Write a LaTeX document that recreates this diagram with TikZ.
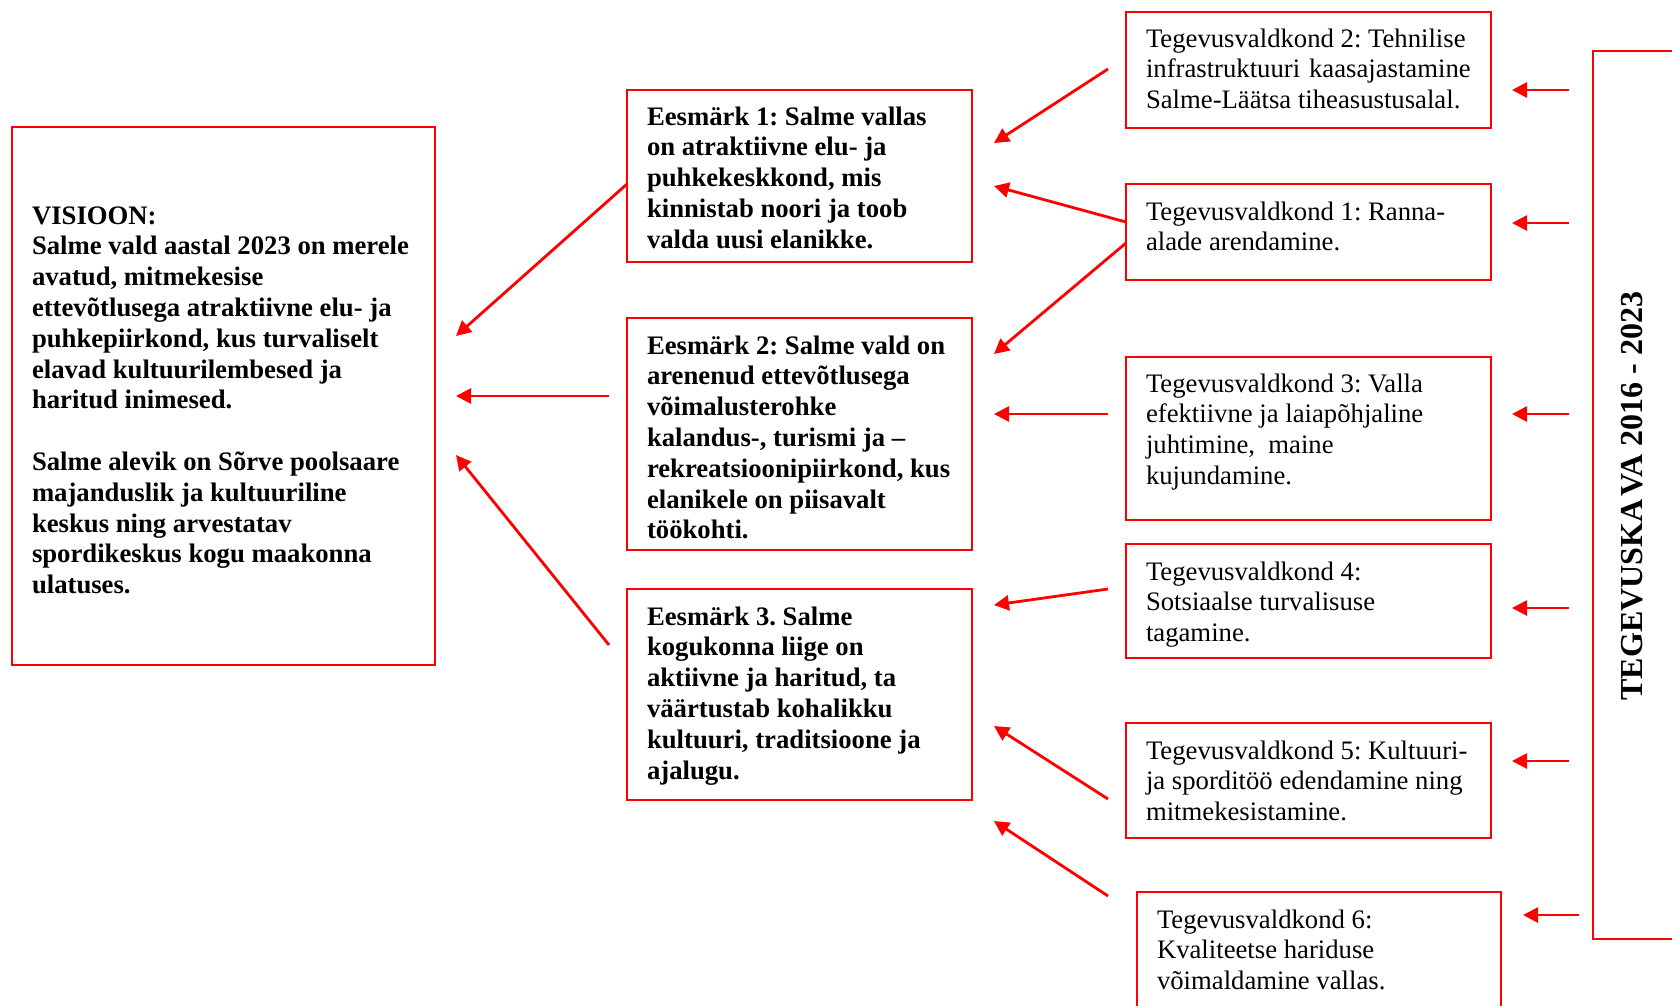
\documentclass[tikz,border=0pt]{standalone}
\usepackage{fontspec}
\setmainfont{Liberation Serif}
\usetikzlibrary{arrows.meta}
\definecolor{pured}{RGB}{255,0,0}
\tikzset{
  boxnode/.style={draw=pured, line width=2.2pt, inner sep=0pt, outer sep=0pt, anchor=north west, rectangle},
  txtnode/.style={inner sep=0pt, outer sep=0pt, anchor=base west, align=left},
  arr/.style={draw=pured, line width=2.8pt, -{Triangle[length=15pt,width=15pt]}},
}
\frenchspacing
\newcommand{\bodyfont}{\fontsize{26.7pt}{30.8pt}\selectfont}
\newcommand{\txtbox}[1]{\parbox[t]{520pt}{\raggedright\bodyfont\frenchspacing #1}}
\begin{document}
\begin{tikzpicture}[x=1pt,y=-1pt]
\useasboundingbox (0,0) rectangle (1672,1005);
\clip (0,0) rectangle (1672,1005);
\fill[white] (0,0) rectangle (1672,1005);

% boxes
\node[boxnode, minimum width=423pt, minimum height=538pt] (vis) at (12,127) {};
\node[boxnode, minimum width=345pt, minimum height=172pt] (e1) at (627,90) {};
\node[boxnode, minimum width=345pt, minimum height=232pt] (e2) at (627,318) {};
\node[boxnode, minimum width=345pt, minimum height=211pt] (e3) at (627,589) {};
\node[boxnode, minimum width=365pt, minimum height=116pt] (tv2) at (1126,12) {};
\node[boxnode, minimum width=365pt, minimum height=96pt] (tv1) at (1126,184) {};
\node[boxnode, minimum width=365pt, minimum height=163pt] (tv3) at (1126,357) {};
\node[boxnode, minimum width=365pt, minimum height=114pt] (tv4) at (1126,544) {};
\node[boxnode, minimum width=365pt, minimum height=115pt] (tv5) at (1126,723) {};
\node[boxnode, minimum width=364pt, minimum height=140pt] (tv6) at (1137,892) {};
\node[boxnode, minimum width=120pt, minimum height=888pt] (tk) at (1593,51) {};

% texts
\node[txtnode] (vist) at ([xshift=20pt,yshift=-97pt]vis.north west) {\txtbox{\bfseries VISIOON:\\
Salme vald aastal 2023 on merele\\
avatud, mitmekesise\\
ettevõtlusega atraktiivne elu- ja\\
puhkepiirkond, kus turvaliselt\\
elavad kultuurilembesed ja\\
haritud inimesed.\\
\mbox{}\\
Salme alevik on Sõrve poolsaare\\
majanduslik ja kultuuriline\\
keskus ning arvestatav\\
spordikeskus kogu maakonna\\
ulatuses.}};

\node[txtnode] (e1t) at ([xshift=20pt,yshift=-35pt]e1.north west) {\txtbox{\bfseries Eesmärk 1: Salme vallas\\
on atraktiivne elu- ja\\
puhkekeskkond, mis\\
kinnistab noori ja toob\\
valda uusi elanikke.}};

\node[txtnode] (e2t) at ([xshift=20pt,yshift=-36pt]e2.north west) {\txtbox{\bfseries Eesmärk 2: Salme vald on\\
arenenud ettevõtlusega\\
võimalusterohke\\
kalandus-, turismi ja –\\
rekreatsioonipiirkond, kus\\
elanikele on piisavalt\\
töökohti.}};

\node[txtnode] (e3t) at ([xshift=20pt,yshift=-36pt]e3.north west) {\txtbox{\bfseries Eesmärk 3. Salme\\
kogukonna liige on\\
aktiivne ja haritud, ta\\
väärtustab kohalikku\\
kultuuri, traditsioone ja\\
ajalugu.}};

\node[txtnode] (tv2t) at ([xshift=20pt,yshift=-35pt]tv2.north west) {\txtbox{Tegevusvaldkond 2: Tehnilise\\
infrastruktuuri\hspace{0.33em}kaasajastamine\\
Salme-Läätsa tiheasustusalal.}};

\node[txtnode] (tv1t) at ([xshift=20pt,yshift=-36pt]tv1.north west) {\txtbox{Tegevusvaldkond 1: Ranna-\\
alade arendamine.}};

\node[txtnode] (tv3t) at ([xshift=20pt,yshift=-35pt]tv3.north west) {\txtbox{Tegevusvaldkond 3: Valla\\
efektiivne ja laiapõhjaline\\
juhtimine,\ \ maine\\
kujundamine.}};

\node[txtnode] (tv4t) at ([xshift=20pt,yshift=-36pt]tv4.north west) {\txtbox{Tegevusvaldkond 4:\\
Sotsiaalse turvalisuse\\
tagamine.}};

\node[txtnode] (tv5t) at ([xshift=20pt,yshift=-36pt]tv5.north west) {\txtbox{Tegevusvaldkond 5: Kultuuri-\\
ja sporditöö edendamine ning\\
mitmekesistamine.}};

\node[txtnode] (tv6t) at ([xshift=20pt,yshift=-36pt]tv6.north west) {\txtbox{Tegevusvaldkond 6:\\
Kvaliteetse hariduse\\
võimaldamine vallas.}};

\node[rotate=90, inner sep=0pt, font=\fontsize{32pt}{36pt}\selectfont\bfseries] (tkt) at (1632,496) {TEGEVUSKA\kern3pt VA 2016 - 2023};

% connector end points
\coordinate (p1s) at (627,184);  \coordinate (p1e) at (456,336);
\coordinate (p2s) at (609,396);  \coordinate (p2e) at (456,396);
\coordinate (p3s) at (609,645);  \coordinate (p3e) at (456,455);
\coordinate (q1s) at (1108,69);  \coordinate (q1e) at (994,143);
\coordinate (q2s) at (1126,222); \coordinate (q2e) at (994,186);
\coordinate (q3s) at (1126,243); \coordinate (q3e) at (994,354);
\coordinate (q4s) at (1108,414); \coordinate (q4e) at (994,414);
\coordinate (q5s) at (1108,589); \coordinate (q5e) at (994,605);
\coordinate (q6s) at (1108,799); \coordinate (q6e) at (994,726);
\coordinate (q7s) at (1108,896); \coordinate (q7e) at (994,821);
\coordinate (r1s) at (1569,90);  \coordinate (r1e) at (1512,90);
\coordinate (r2s) at (1569,223); \coordinate (r2e) at (1512,223);
\coordinate (r3s) at (1569,414); \coordinate (r3e) at (1512,414);
\coordinate (r4s) at (1569,608); \coordinate (r4e) at (1512,608);
\coordinate (r5s) at (1569,761); \coordinate (r5e) at (1512,761);
\coordinate (r6s) at (1579,915); \coordinate (r6e) at (1523,915);

% connectors
\draw[arr] (p1s) -- (p1e);
\draw[arr] (p2s) -- (p2e);
\draw[arr] (p3s) -- (p3e);
\draw[arr] (q1s) -- (q1e);
\draw[arr] (q2s) -- (q2e);
\draw[arr] (q3s) -- (q3e);
\draw[arr] (q4s) -- (q4e);
\draw[arr] (q5s) -- (q5e);
\draw[arr] (q6s) -- (q6e);
\draw[arr] (q7s) -- (q7e);
\draw[arr] (r1s) -- (r1e);
\draw[arr] (r2s) -- (r2e);
\draw[arr] (r3s) -- (r3e);
\draw[arr] (r4s) -- (r4e);
\draw[arr] (r5s) -- (r5e);
\draw[arr] (r6s) -- (r6e);
\end{tikzpicture}
\end{document}
